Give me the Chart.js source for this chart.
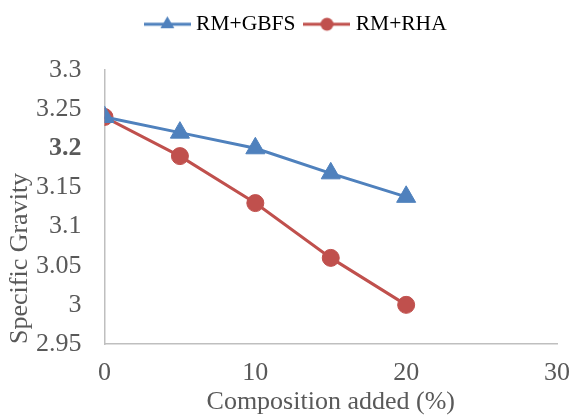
<!DOCTYPE html>
<html>
<head>
<meta charset="UTF-8">
<style>
  html, body { margin: 0; padding: 0; background: #fff; }
  #wrap { width: 573px; height: 416px; }
</style>
</head>
<body>
<div id="wrap"><canvas id="myChart"></canvas></div>

<script src="https://cdn.jsdelivr.net/npm/chart.js@4/dist/chart.umd.min.js"></script>

<script>
    // composition (%) and specific gravity of each mix
    const composition = [0, 5, 10, 15, 20];
    const gbfsValues = [3.24, 3.22, 3.2, 3.168, 3.138];
    const rhaValues = [3.24, 3.19, 3.13, 3.06, 3.0];
    const seriesNames = ['RM+GBFS', 'RM+RHA'];

    const xMin = 0, xMax = 30, xStep = 10;
    const yMin = 2.95, yMax = 3.3, yStep = 0.05;

    const blue = '#4F81BD';
    const red = '#C0504D';
    const grey = '#595959';
    const serif = '"Liberation Serif", "Times New Roman", serif';

    function toPoints(xs, ys) {
        return xs.map((x, i) => ({ x: x, y: ys[i] }));
    }

    // small line + marker picture used as legend symbol
    function legendIcon(color, style) {
        const c = document.createElement('canvas');
        c.width = 47;
        c.height = 20;
        const g = c.getContext('2d');
        g.strokeStyle = color;
        g.fillStyle = color;
        g.lineWidth = 3;
        g.beginPath();
        g.moveTo(0, 10);
        g.lineTo(47, 10);
        g.stroke();
        g.beginPath();
        if (style === 'triangle') {
            const r = 8;
            g.moveTo(23.5, 10 - r);
            g.lineTo(23.5 + r * Math.sin(2 * Math.PI / 3), 10 - r * Math.cos(2 * Math.PI / 3));
            g.lineTo(23.5 + r * Math.sin(4 * Math.PI / 3), 10 - r * Math.cos(4 * Math.PI / 3));
            g.closePath();
        } else {
            g.arc(23.5, 10, 6.5, 0, Math.PI * 2);
        }
        g.fill();
        return c;
    }
    const legendIcons = [legendIcon(blue, 'triangle'), legendIcon(red, 'circle')];

    // nudge the legend so it sits where the plot needs it
    const legendShift = {
        id: 'legendShift',
        afterLayout(chart) {
            const l = chart.legend;
            if (!l) return;
            l.left += 16; l.right += 16;
            l.top -= 25; l.bottom -= 25;
        }
    };

    function displayChart() {
        var ctx = document.getElementById('myChart').getContext('2d');
        var chart = new Chart(ctx, {
            type: 'line',
            data: {
                datasets: [
                    {
                        label: seriesNames[0],
                        data: toPoints(composition, gbfsValues),
                        borderColor: blue,
                        backgroundColor: blue,
                        borderWidth: 3,
                        pointStyle: 'triangle',
                        pointRadius: 11,
                        pointHoverRadius: 11,
                        pointBorderWidth: 1,
                        tension: 0
                    },
                    {
                        label: seriesNames[1],
                        data: toPoints(composition, rhaValues),
                        borderColor: red,
                        backgroundColor: red,
                        borderWidth: 3,
                        pointStyle: 'circle',
                        pointRadius: 8.5,
                        pointHoverRadius: 8.5,
                        pointBorderWidth: 1,
                        tension: 0
                    }
                ]
            },
            options: {
                responsive: true,
                maintainAspectRatio: false,
                animation: false,
                events: [],
                layout: { padding: { top: 25, left: 7, right: 16, bottom: 0.9 } },
                plugins: {
                    tooltip: { enabled: false },
                    legend: {
                        position: 'top',
                        labels: {
                            usePointStyle: true,
                            pointStyleWidth: 36,
                            padding: 13.5,
                            color: '#000',
                            font: { family: serif, size: 21.5 },
                            generateLabels(chart) {
                                const items = Chart.defaults.plugins.legend.labels.generateLabels(chart);
                                items.forEach((it, i) => { it.pointStyle = legendIcons[i]; });
                                return items;
                            }
                        }
                    }
                },
                scales: {
                    x: {
                        type: 'linear',
                        min: xMin,
                        max: xMax,
                        grid: { display: false, drawTicks: false },
                        border: { display: true, color: '#BFBFBF', width: 1.5 },
                        ticks: {
                            stepSize: xStep,
                            padding: 13.9,
                            color: grey,
                            font: { family: serif, size: 26 }
                        },
                        // keep the "30" label overhang from eating the plot width
                        afterFit: s => { s.paddingRight = 16; },
                        title: {
                            display: true,
                            text: 'Composition added (%)',
                            color: grey,
                            // tick padding is counted twice when the axis is sized
                            padding: { top: -13.9, bottom: 0 },
                            font: { family: serif, size: 26, lineHeight: 1 }
                        }
                    },
                    y: {
                        min: yMin,
                        max: yMax,
                        grid: { display: false, drawTicks: false },
                        border: { display: true, color: '#BFBFBF', width: 1.5 },
                        ticks: {
                            stepSize: yStep,
                            padding: 23,
                            color: grey,
                            callback: v => String(+v.toFixed(2)),
                            font: c => ({
                                family: serif,
                                size: 26,
                                weight: c.tick && Math.abs(c.tick.value - 3.2) < 1e-6 ? 'bold' : 'normal'
                            })
                        },
                        title: {
                            display: true,
                            text: 'Specific Gravity',
                            align: 'start',
                            color: grey,
                            padding: { top: 0, bottom: -20 },
                            font: { family: serif, size: 26, lineHeight: 1 }
                        }
                    }
                }
            },
            plugins: [legendShift]
        });
    }
    displayChart();
</script>
</body>
</html>
